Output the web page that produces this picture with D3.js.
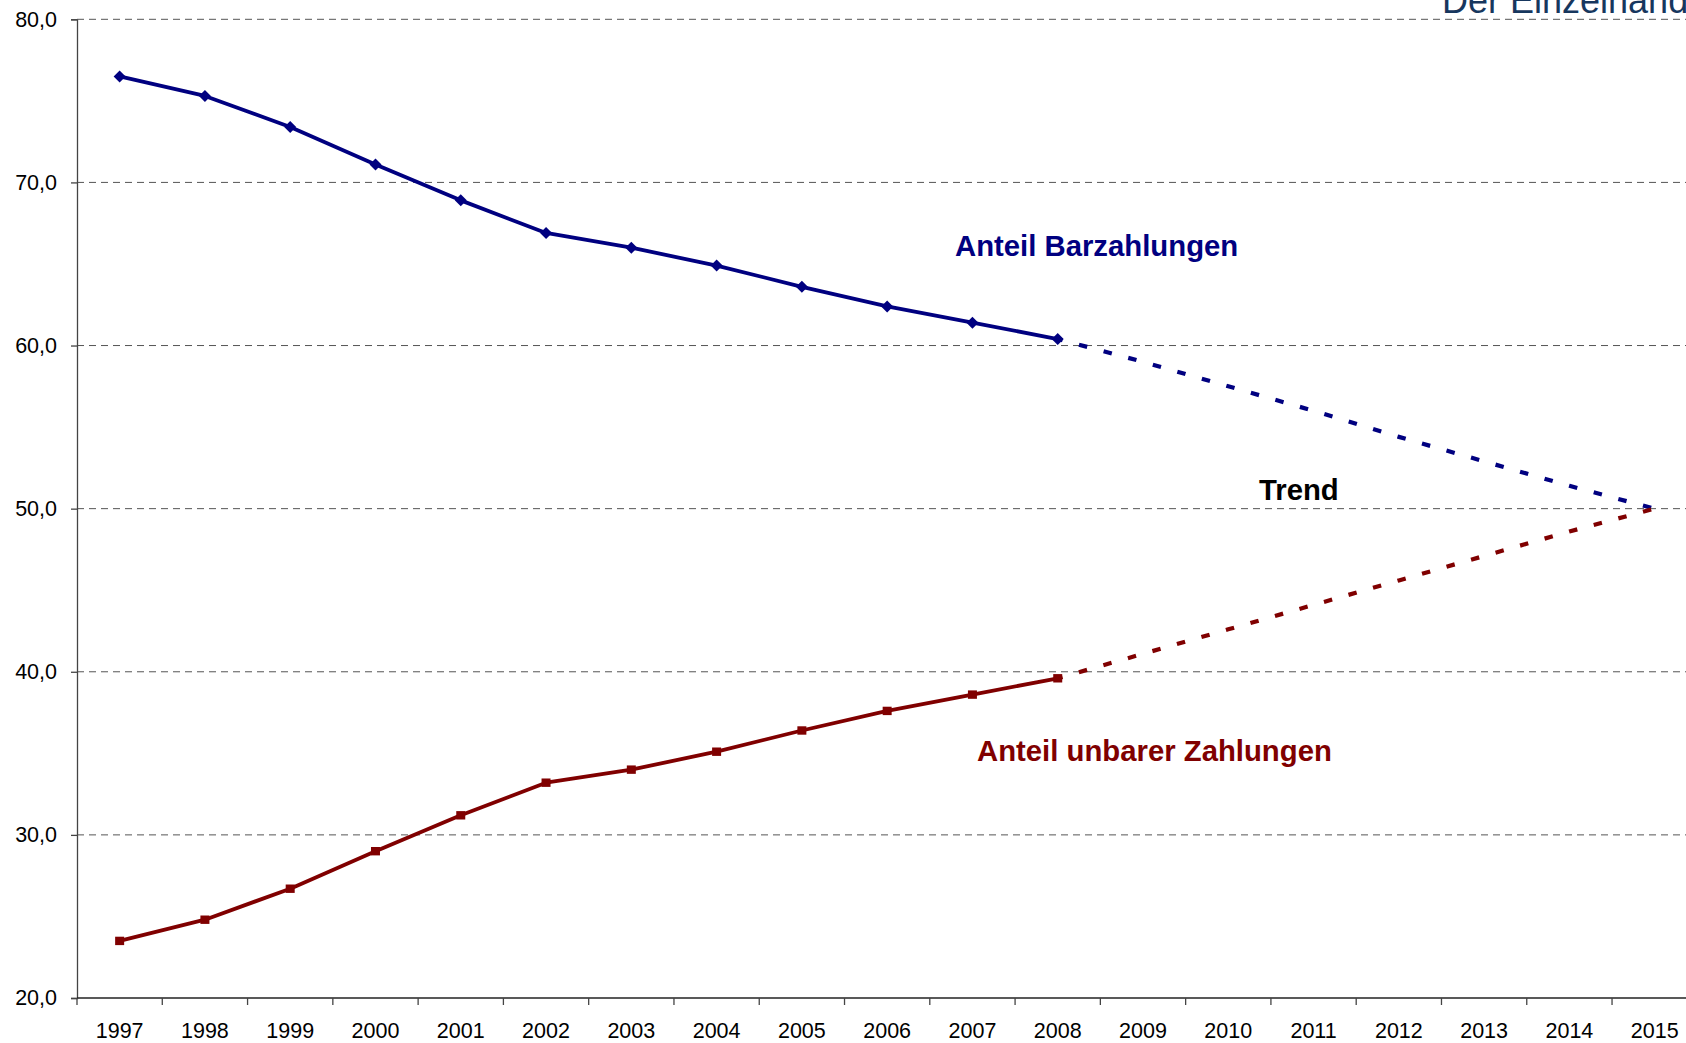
<!DOCTYPE html>
<html>
<head>
<meta charset="utf-8">
<script src="https://cdn.jsdelivr.net/npm/d3@7"></script>
<style>
  html, body { margin: 0; padding: 0; background: #fff; overflow: hidden; }
  svg { display: block; font-family: "Liberation Sans", Arial, sans-serif; }
</style>
</head>
<body>
<svg id="chart" width="1686" height="1043"></svg>
<script>
// ---- data ----
const years = ["1997","1998","1999","2000","2001","2002","2003","2004","2005","2006","2007","2008","2009","2010","2011","2012","2013","2014","2015"];
const yTicks = [20, 30, 40, 50, 60, 70, 80];
const actualYears = ["1997","1998","1999","2000","2001","2002","2003","2004","2005","2006","2007","2008"];
const barValues   = [76.5, 75.3, 73.4, 71.1, 68.9, 66.9, 66.0, 64.9, 63.6, 62.4, 61.4, 60.4];
const unbarValues = [23.5, 24.8, 26.7, 29.0, 31.2, 33.2, 34.0, 35.1, 36.4, 37.6, 38.6, 39.6];
const trendYears  = ["2008","2009","2010","2011","2012","2013","2014","2015"];
const barTrend    = [60.4, 59.0, 57.5, 56.0, 54.4, 52.9, 51.4, 50.0];
const unbarTrend  = [39.6, 41.1, 42.6, 44.1, 45.6, 47.1, 48.6, 50.0];
const labels = {
  title: "Der Einzelhandel",
  bar: "Anteil Barzahlungen",
  unbar: "Anteil unbarer Zahlungen",
  trend: "Trend"
};

// ---- layout ----
const svg = d3.select("#chart");
const plotLeft = 77, plotTop = 19.3, plotBottom = 998;
const band = 85.28;
const x = d3.scaleBand().domain(years).range([plotLeft, plotLeft + band * years.length]).paddingInner(0).paddingOuter(0);
const y = d3.scaleLinear().domain([20, 80]).range([plotBottom, plotTop]);
const cx = d => x(d) + x.bandwidth() / 2;

const navy = "#000080", maroon = "#800000";
const tickFont = 21.5, noteFont = 29.3;

// title (partially clipped at the top edge, as in the reference)
svg.append("text")
  .attr("x", 1442).attr("y", 13)
  .attr("font-size", 36).attr("fill", "#17375E")
  .text(labels.title);

// gridlines
svg.append("g").selectAll("line").data(yTicks.filter(v => v > 20)).join("line")
  .attr("x1", plotLeft).attr("x2", 1686)
  .attr("y1", d => y(d)).attr("y2", d => y(d))
  .attr("stroke", "#555").attr("stroke-width", 1)
  .attr("stroke-dasharray", "7,5");

// y axis
const yAxis = d3.axisLeft(y).tickValues(yTicks).tickSize(6).tickPadding(14)
  .tickFormat(d => d3.format(".1f")(d).replace(".", ","));
const gy = svg.append("g").attr("transform", `translate(${plotLeft},0)`).call(yAxis);
gy.select(".domain").attr("stroke", "#444").attr("stroke-width", 1.3);
gy.selectAll(".tick line").attr("stroke", "#444").attr("stroke-width", 1.3);
gy.selectAll(".tick text").attr("font-size", tickFont).attr("fill", "#000")
  .attr("font-family", "Liberation Sans, Arial, sans-serif");

// x axis (labels centred in bands, ticks at band boundaries)
const xAxis = d3.axisBottom(x).tickSize(0).tickPadding(0);
const gx = svg.append("g").attr("transform", `translate(0,${plotBottom})`).call(xAxis);
gx.select(".domain").remove();
gx.selectAll(".tick text").attr("font-size", tickFont).attr("fill", "#000")
  .attr("dy", 0).attr("y", 40)
  .attr("font-family", "Liberation Sans, Arial, sans-serif");
svg.append("line")
  .attr("x1", plotLeft).attr("x2", 1686).attr("y1", plotBottom).attr("y2", plotBottom)
  .attr("stroke", "#222").attr("stroke-width", 1.3);
svg.append("g").selectAll("line").data(years.slice(1)).join("line")
  .attr("x1", d => x(d)).attr("x2", d => x(d))
  .attr("y1", plotBottom).attr("y2", plotBottom + 7)
  .attr("stroke", "#444").attr("stroke-width", 1.3);
svg.append("line")
  .attr("x1", plotLeft).attr("x2", plotLeft).attr("y1", plotBottom).attr("y2", plotBottom + 7)
  .attr("stroke", "#444").attr("stroke-width", 1.3);

// lines
const line = d3.line().x(d => cx(d[0])).y(d => y(d[1]));
const barPts = actualYears.map((yr, i) => [yr, barValues[i]]);
const unbarPts = actualYears.map((yr, i) => [yr, unbarValues[i]]);
const barTrendPts = trendYears.map((yr, i) => [yr, barTrend[i]]);
const unbarTrendPts = trendYears.map((yr, i) => [yr, unbarTrend[i]]);

svg.append("path").attr("d", line(barTrendPts))
  .attr("fill", "none").attr("stroke", navy).attr("stroke-width", 4.2)
  .attr("stroke-dasharray", "8.5,17").attr("stroke-dashoffset", -22);
svg.append("path").attr("d", line(unbarTrendPts))
  .attr("fill", "none").attr("stroke", maroon).attr("stroke-width", 4.2)
  .attr("stroke-dasharray", "8.5,17").attr("stroke-dashoffset", -22);

svg.append("path").attr("d", line(barPts))
  .attr("fill", "none").attr("stroke", navy).attr("stroke-width", 3.8)
  .attr("stroke-linejoin", "round");
svg.append("path").attr("d", line(unbarPts))
  .attr("fill", "none").attr("stroke", maroon).attr("stroke-width", 3.8)
  .attr("stroke-linejoin", "round");

// markers
svg.append("g").selectAll("path").data(barPts).join("path")
  .attr("transform", d => `translate(${cx(d[0])},${y(d[1])})`)
  .attr("d", "M0,-6L6,0L0,6L-6,0Z")
  .attr("fill", navy);
svg.append("g").selectAll("rect").data(unbarPts).join("rect")
  .attr("x", d => cx(d[0]) - 4.5).attr("y", d => y(d[1]) - 4.2)
  .attr("width", 9).attr("height", 8.4)
  .attr("fill", maroon);

// annotations
svg.append("text").attr("x", 955).attr("y", 256)
  .attr("font-size", noteFont).attr("font-weight", "bold").attr("fill", navy)
  .text(labels.bar);
svg.append("text").attr("x", 1259).attr("y", 500)
  .attr("font-size", noteFont).attr("font-weight", "bold").attr("fill", "#000")
  .text(labels.trend);
svg.append("text").attr("x", 977).attr("y", 761)
  .attr("font-size", noteFont).attr("font-weight", "bold").attr("fill", maroon)
  .text(labels.unbar);
</script>
</body>
</html>
